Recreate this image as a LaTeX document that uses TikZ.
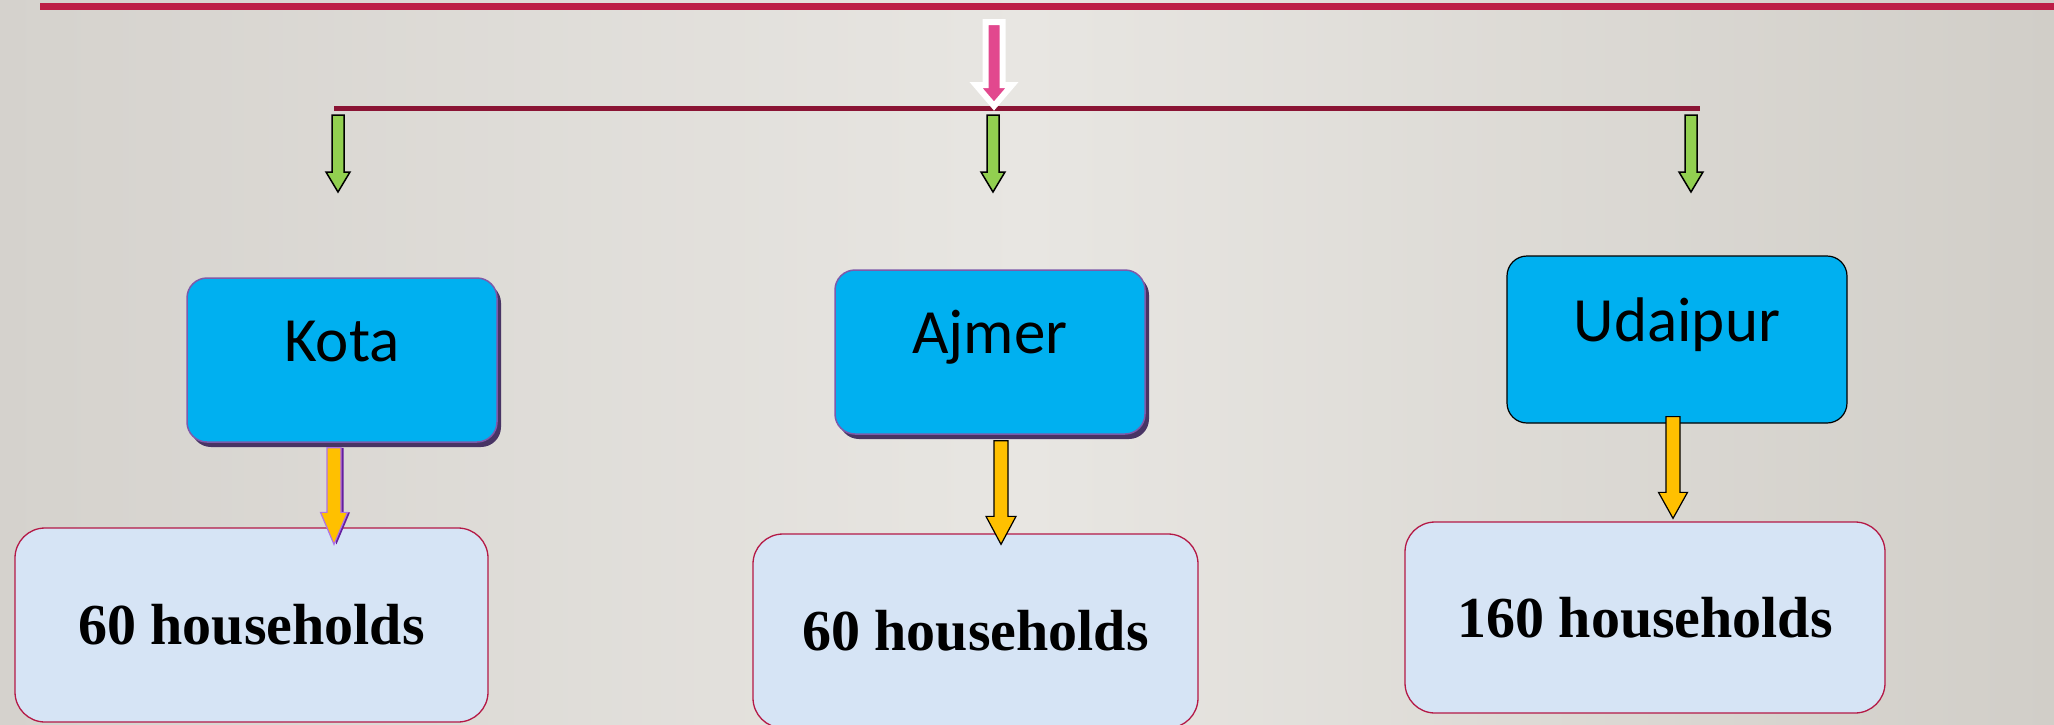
\documentclass[tikz,border=0pt]{standalone}
\usepackage{fontspec}
\setmainfont{Liberation Serif}
\newfontfamily\calibri{Carlito}
\usetikzlibrary{calc,shadows}

\definecolor{bgside}{RGB}{213,210,205}
\definecolor{bgmid}{RGB}{232,230,226}
\definecolor{bgright}{RGB}{209,206,200}
\definecolor{topred}{RGB}{189,30,70}
\definecolor{branchred}{RGB}{138,20,52}
\definecolor{pinkarr}{RGB}{226,72,142}
\definecolor{greenarr}{RGB}{146,208,80}
\definecolor{yellowarr}{RGB}{255,192,0}
\definecolor{citycyan}{RGB}{0,176,240}
\definecolor{cityline}{RGB}{125,90,170}
\definecolor{cityshadow}{RGB}{72,52,100}
\definecolor{hhfill}{RGB}{214,228,245}
\definecolor{hhline}{RGB}{180,25,70}
\definecolor{kotaline}{RGB}{175,115,230}
\definecolor{kotadark}{RGB}{100,30,160}

% vertical block arrow: style, start, tip, half shaft, half head, head length
\newcommand{\blockarrow}[6][]{%
  \draw[#1] let \p1=(#2), \p2=(#3) in
    (\x1-#4,\y1) -- (\x1+#4,\y1) -- (\x1+#4,\y2+#6) -- (\x1+#5,\y2+#6)
    -- (\x1,\y2) -- (\x1-#5,\y2+#6) -- (\x1-#4,\y2+#6) -- cycle ;}

\begin{document}
\begin{tikzpicture}
    [x=1pt,y=-1pt,
     citybase/.style={rectangle,rounded corners=20pt,fill=citycyan,
        minimum width=310pt,minimum height=164pt,text height=41pt,text depth=38pt,
        font=\calibri\fontsize{63}{63}\selectfont},
     citybox/.style={citybase,draw=cityline,line width=1.5pt,
        drop shadow={shadow xshift=4pt,shadow yshift=-5pt,fill=cityshadow,opacity=1}},
     hhbox/.style={rectangle,rounded corners=30pt,fill=hhfill,draw=hhline,line width=1.3pt,
        minimum height=194pt,font=\bfseries\fontsize{58}{58}\selectfont},
     greenarrow/.style={fill=greenarr,draw=black,line width=1.5pt},
     yellowarrow/.style={fill=yellowarr,draw=black,line width=1.2pt}]
    \useasboundingbox (0,0) rectangle (2054,724) ;
    \shade[left color=bgside,right color=bgright,middle color=bgmid] (0,0) rectangle (2054,724) ;

    % lines
    \coordinate (topl) at (40,6.5) ;
    \coordinate (topr) at (2054,6.5) ;
    \coordinate (brl) at (334,108.5) ;
    \coordinate (brr) at (1700,108.5) ;
    \draw[topred,line width=7pt] (topl) -- (topr) ;
    \draw[branchred,line width=5pt] (brl) -- (brr) ;

    % cities
    \node[citybox] (kota) at (342,360) {Kota} ;
    \node[citybox] (ajmer) at (990,352) {Ajmer} ;
    \node[citybase,draw=black,line width=1.2pt,minimum width=340pt,minimum height=167pt] (udaipur) at (1677,339.5) {Udaipur} ;

    % households
    \node[hhbox,minimum width=473pt] (kotahh) at (251.5,625) {60 households} ;
    \node[hhbox,minimum width=445pt] (ajmerhh) at (975.5,631) {60 households} ;
    \node[hhbox,minimum width=480pt,minimum height=191pt] (udaipurhh) at (1645,617.5) {160 households} ;

    % arrows
    \coordinate (pinkstart) at (994,22) ;
    \coordinate (pinktip) at (994,106) ;
    \blockarrow[fill=pinkarr,draw=white,line width=6pt]{pinkstart}{pinktip}{8.5pt}{18pt}{21pt}

    \coordinate (kotaout) at (338,115) ;
    \coordinate (kotain) at (338,192) ;
    \coordinate (ajmerout) at (993,115) ;
    \coordinate (ajmerin) at (993,192) ;
    \coordinate (udaipurout) at (1691,115) ;
    \coordinate (udaipurin) at (1691,192) ;
    \blockarrow[greenarrow]{kotaout}{kotain}{6pt}{12pt}{20pt}
    \blockarrow[greenarrow]{ajmerout}{ajmerin}{6pt}{12pt}{20pt}
    \blockarrow[greenarrow]{udaipurout}{udaipurin}{6pt}{12pt}{20pt}

    \blockarrow[yellowarrow,draw=kotaline,drop shadow={shadow xshift=2.5pt,shadow yshift=0pt,fill=kotadark,opacity=1}]{$(kota.south)+(-8,5)$}{$(kotahh.north)+(0,17)$}{7pt}{13.5pt}{32pt}
    \blockarrow[yellowarrow]{$(ajmer.south)+(11,6)$}{$(ajmerhh.north)+(0,11)$}{7pt}{15pt}{28pt}
    \blockarrow[yellowarrow]{$(udaipur.south)+(-4,-7)$}{$(udaipurhh.north)+(0,-3)$}{7pt}{14.5pt}{26pt}
  \end{tikzpicture}
\end{document}
